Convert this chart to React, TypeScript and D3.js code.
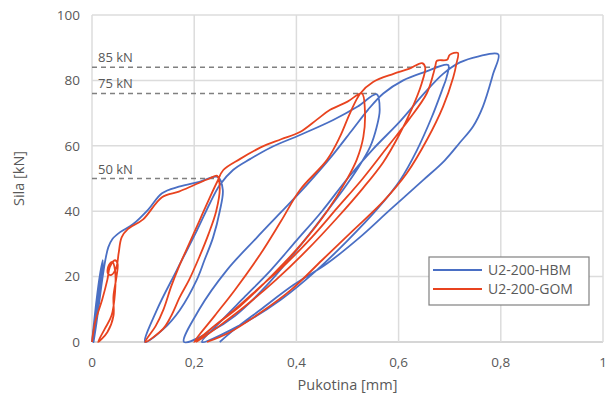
import React from "react";
import * as d3 from "d3";

type P = [number, number];

// U2-200-HBM (displacement mm, force kN), consecutive load/unload branches
const hbmCycle1: P[] = [[0,0],[0.004,6],[0.009,13],[0.015,20],[0.021,25],[0.02,22],[0.014,15],[0.008,8],[0.004,3],[0.003,0]];
const hbmReload1: P[] = [[0.003,0],[0.008,5],[0.014,12],[0.02,19],[0.026,25],[0.032,29],[0.04,31.5],[0.055,33.6],[0.08,36],[0.11,40.5],[0.137,45.5],[0.17,47.5],[0.21,49],[0.246,50.5]];
const hbmUnload50: P[] = [[0.256,46.5],[0.25,40],[0.237,32],[0.22,25],[0.205,19],[0.172,9.8],[0.14,4],[0.104,0]];
const hbmReload50: P[] = [[0.127,9.8],[0.166,22],[0.205,34],[0.231,42.5],[0.25,48],[0.276,52.6],[0.31,56],[0.35,59.5],[0.407,63.3],[0.472,67.9],[0.52,72],[0.557,75.8]];
const hbmUnload75: P[] = [[0.563,71],[0.557,65.7],[0.544,59.6],[0.518,52.6],[0.491,46.5],[0.45,38],[0.4,28],[0.34,17],[0.28,8],[0.23,3],[0.18,0]];
const hbmReload75: P[] = [[0.21,10],[0.264,22],[0.323,32],[0.368,39.4],[0.42,48],[0.47,57],[0.51,65],[0.54,71],[0.57,76],[0.609,80],[0.65,82.5],[0.697,84.7]];
const hbmUnload85: P[] = [[0.694,81],[0.685,77],[0.665,68.8],[0.636,58.7],[0.603,49.5],[0.56,41],[0.5,31],[0.44,22],[0.37,13],[0.3,6],[0.215,0]];
const hbmReload85: P[] = [[0.25,6],[0.3,14],[0.35,22],[0.4,31],[0.45,40],[0.5,50],[0.55,59],[0.6,67],[0.65,76],[0.687,82],[0.72,85.5],[0.755,87.3],[0.795,88]];
const hbmUnload88: P[] = [[0.785,82],[0.765,72],[0.746,66],[0.72,61],[0.69,55.5],[0.648,49.5],[0.583,40.4],[0.524,32],[0.46,24],[0.394,17.4],[0.329,9.8],[0.28,4],[0.25,0]];

// U2-200-GOM
const gomCycle1: P[] = [[0,0],[0.006,6],[0.02,13],[0.03,19],[0.035,23],[0.045,25],[0.05,24],[0.048,20],[0.042,14],[0.042,8],[0.03,3],[0.012,0]];
const gomReload1: P[] = [[0.025,4],[0.038,8],[0.045,15],[0.045,22],[0.04,24.5],[0.033,23.5],[0.031,21],[0.038,20.5],[0.048,23],[0.052,27],[0.058,32],[0.07,34.5],[0.1,37.5],[0.137,44.3],[0.17,46],[0.2,48],[0.23,50],[0.245,50.8]];
const gomUnload50: P[] = [[0.25,47],[0.243,40],[0.228,33],[0.21,26],[0.19,19],[0.172,13.8],[0.155,8],[0.139,4],[0.104,0]];
const gomReload50: P[] = [[0.125,5],[0.14,10],[0.155,17],[0.17,23],[0.19,30],[0.21,37],[0.23,44],[0.245,49],[0.257,52.6],[0.29,56],[0.33,59.5],[0.37,62],[0.407,64.2],[0.44,68],[0.466,71],[0.5,73.5],[0.528,76]];
const gomUnload75: P[] = [[0.534,71],[0.531,62.7],[0.518,55.7],[0.498,49.5],[0.46,40],[0.41,30],[0.35,20],[0.29,11],[0.24,5],[0.2,0]];
const gomReload75: P[] = [[0.24,8],[0.28,16],[0.33,27],[0.37,37],[0.407,46.5],[0.46,55.7],[0.485,62.7],[0.505,70],[0.525,76],[0.55,79.5],[0.59,82],[0.62,83.5],[0.646,85.3]];
const gomUnload85: P[] = [[0.652,84],[0.645,79],[0.625,71],[0.6,63],[0.57,55],[0.53,47],[0.48,38],[0.42,28],[0.36,19],[0.3,11],[0.25,5],[0.205,0]];
const gomReload85: P[] = [[0.24,5],[0.28,10],[0.33,17],[0.38,24],[0.43,32],[0.48,41],[0.53,50],[0.58,60],[0.62,68],[0.655,76],[0.668,82],[0.672,84.5],[0.675,86],[0.695,86.3],[0.7,87.8],[0.716,88.4]];
const gomUnload88: P[] = [[0.713,85],[0.707,81],[0.687,72],[0.656,62],[0.616,51.6],[0.57,43],[0.51,34],[0.45,25],[0.39,16],[0.33,9],[0.27,3],[0.225,0]];

const hbm: P[] = [...hbmCycle1, ...hbmReload1, ...hbmUnload50, ...hbmReload50, ...hbmUnload75, ...hbmReload75, ...hbmUnload85, ...hbmReload85, ...hbmUnload88];
const gom: P[] = [...gomCycle1, ...gomReload1, ...gomUnload50, ...gomReload50, ...gomUnload75, ...gomReload75, ...gomUnload85, ...gomReload85, ...gomUnload88];

const xTicks = [0, 0.2, 0.4, 0.6, 0.8, 1];
const yTicks = [0, 20, 40, 60, 80, 100];
const refLevels = [
  { label: "85 kN", y: 84, xEnd: 0.675 },
  { label: "75 kN", y: 76, xEnd: 0.56 },
  { label: "50 kN", y: 50, xEnd: 0.245 },
];
const seriesNames = ["U2-200-HBM", "U2-200-GOM"];
const colors = ["#4a6fc4", "#e8431f"];

const W = 608, H = 400;
const M = { left: 92, right: 5, top: 15, bottom: 58 };

export default function App() {
  const x = d3.scaleLinear().domain([0, 1]).range([M.left, W - M.right]);
  const y = d3.scaleLinear().domain([0, 100]).range([H - M.bottom, M.top]);
  const line = d3.line<P>().x(d => x(d[0])).y(d => y(d[1])).curve(d3.curveCatmullRom.alpha(0.5));
  const fmt = (v: number) => (v === 0 || v === 1 ? String(v) : String(v).replace(".", ","));
  const font = "'Open Sans', 'Noto Sans', sans-serif";
  const txt = "#595959";
  return (
    <svg width={W} height={H} style={{ position: "absolute", left: 0, top: 0, background: "#fff" }} fontFamily={font}>
      {yTicks.map(t => (
        <line key={"gy" + t} x1={x(0)} x2={x(1)} y1={y(t)} y2={y(t)} stroke={t === 0 ? "#c8c8c8" : "#dcdcdc"} strokeWidth={1.5} />
      ))}
      {xTicks.map(t => (
        <line key={"gx" + t} x1={x(t)} x2={x(t)} y1={y(0)} y2={y(100)} stroke="#dcdcdc" strokeWidth={1.5} />
      ))}
      {yTicks.map(t => (
        <text key={"ty" + t} x={x(0) - 12} y={y(t)} dy="0.35em" textAnchor="end" fontSize={13.5} fill={txt}>{t}</text>
      ))}
      {xTicks.map(t => (
        <text key={"tx" + t} x={x(t)} y={y(0) + 25} textAnchor="middle" fontSize={13.5} fill={txt}>{fmt(t)}</text>
      ))}
      {refLevels.map(r => (
        <g key={r.label}>
          <line x1={x(0)} x2={x(r.xEnd)} y1={y(r.y)} y2={y(r.y)} stroke="#808080" strokeWidth={1.4} strokeDasharray="5,4" />
          <text x={x(0) + 6} y={y(r.y) - 5} fontSize={13} fill={txt}>{r.label}</text>
        </g>
      ))}
      <path d={line(hbm) || ""} fill="none" stroke={colors[0]} strokeWidth={1.8} strokeLinejoin="round" />
      <path d={line(gom) || ""} fill="none" stroke={colors[1]} strokeWidth={1.8} strokeLinejoin="round" />
      <text x={(x(0) + x(1)) / 2} y={390} textAnchor="middle" fontSize={14.5} fill={txt}>Pukotina [mm]</text>
      <text transform={`translate(24, ${(y(0) + y(100)) / 2}) rotate(-90)`} textAnchor="middle" fontSize={14.5} fill={txt}>Sila [kN]</text>
      <g>
        <rect x={429} y={257} width={160} height={48} fill="#fff" stroke="#808080" strokeWidth={1.2} />
        {seriesNames.map((n, i) => (
          <g key={n}>
            <line x1={433} x2={482} y1={270 + i * 19} y2={270 + i * 19} stroke={colors[i]} strokeWidth={2} />
            <text x={488} y={270 + i * 19} dy="0.35em" fontSize={14} fill={txt}>{n}</text>
          </g>
        ))}
      </g>
    </svg>
  );
}
